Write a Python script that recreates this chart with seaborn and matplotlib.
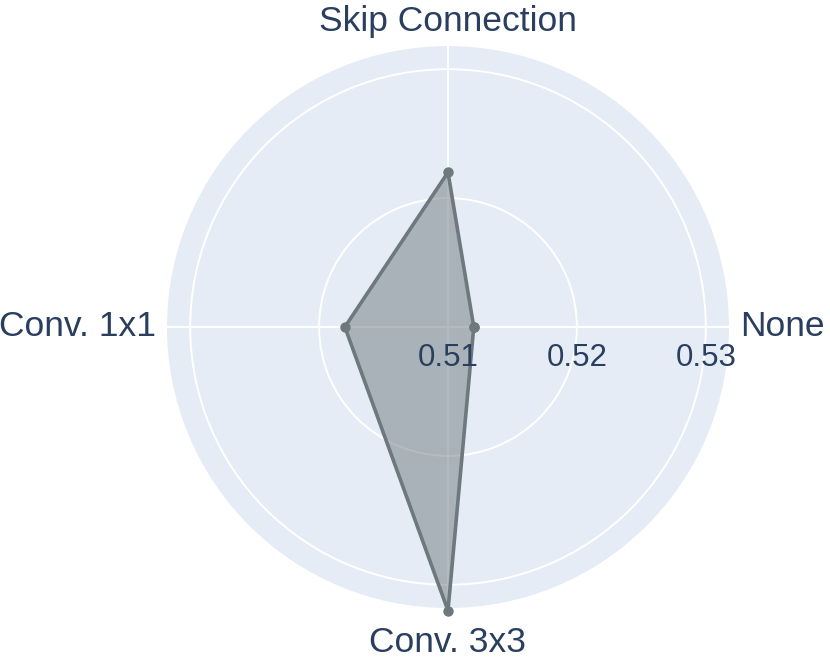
import numpy as np
import matplotlib
matplotlib.use('Agg')
import matplotlib.pyplot as plt
import seaborn as sns

# values
categories = ['None', 'Skip Connection', 'Conv. 1x1', 'Conv. 3x3']
scores = [0.5120, 0.5220, 0.5180, 0.5320]
radial_ticks = [0.51, 0.52, 0.53]
radial_labels = ['0.51', '0.52', '0.53']

sns.set_style('white')
plt.rcParams['font.family'] = ['Liberation Sans', 'DejaVu Sans']
text_color = '#2a3f5f'
line_color = '#6e797d'

fig = plt.figure(figsize=(8.3, 6.59), dpi=100)
ax = fig.add_axes([0.2012, 0.0774, 0.6771, 0.8528], projection='polar')
ax.set_facecolor('#E5ECF6')
ax.spines['polar'].set_visible(False)

angles = np.linspace(0, 2 * np.pi, len(categories), endpoint=False)
theta = np.append(angles, angles[0] + 2 * np.pi)
r = np.append(scores, scores[0])

ax.fill(theta, r, color=line_color, alpha=0.5, lw=0, zorder=2)
sns.lineplot(x=theta, y=r, ax=ax, sort=False, color=line_color, lw=2.6,
             marker='o', markersize=7.5, markeredgewidth=0, zorder=3,
             clip_on=False)

ax.set_ylim(0.51, 0.5318)
ax.set_yticks(radial_ticks)
ax.set_yticklabels([])
ax.set_xticks(angles)
ax.set_xticklabels([])
ax.grid(True, color='white', lw=1.4)
ax.set_axisbelow(True)

for t, lab in zip(radial_ticks, radial_labels):
    ax.annotate(lab, xy=(0, t), xytext=(0, -11.5), textcoords='offset points',
                ha='center', va='top', fontsize=22.5, color=text_color, zorder=5)

# angular labels just outside the disc
rmax = 0.5318
offsets = [(8, 0, 'left', 'center'), (0, 6, 'center', 'bottom'),
           (-8, 0, 'right', 'center'), (0, -13, 'center', 'top')]
for a, lab, (dx, dy, ha, va) in zip(angles, categories, offsets):
    ax.annotate(lab, xy=(a, rmax), xytext=(dx, dy), textcoords='offset points',
                ha=ha, va=va, fontsize=25.5, color=text_color, annotation_clip=False)

fig.savefig('out.png', dpi=100, facecolor='white')
